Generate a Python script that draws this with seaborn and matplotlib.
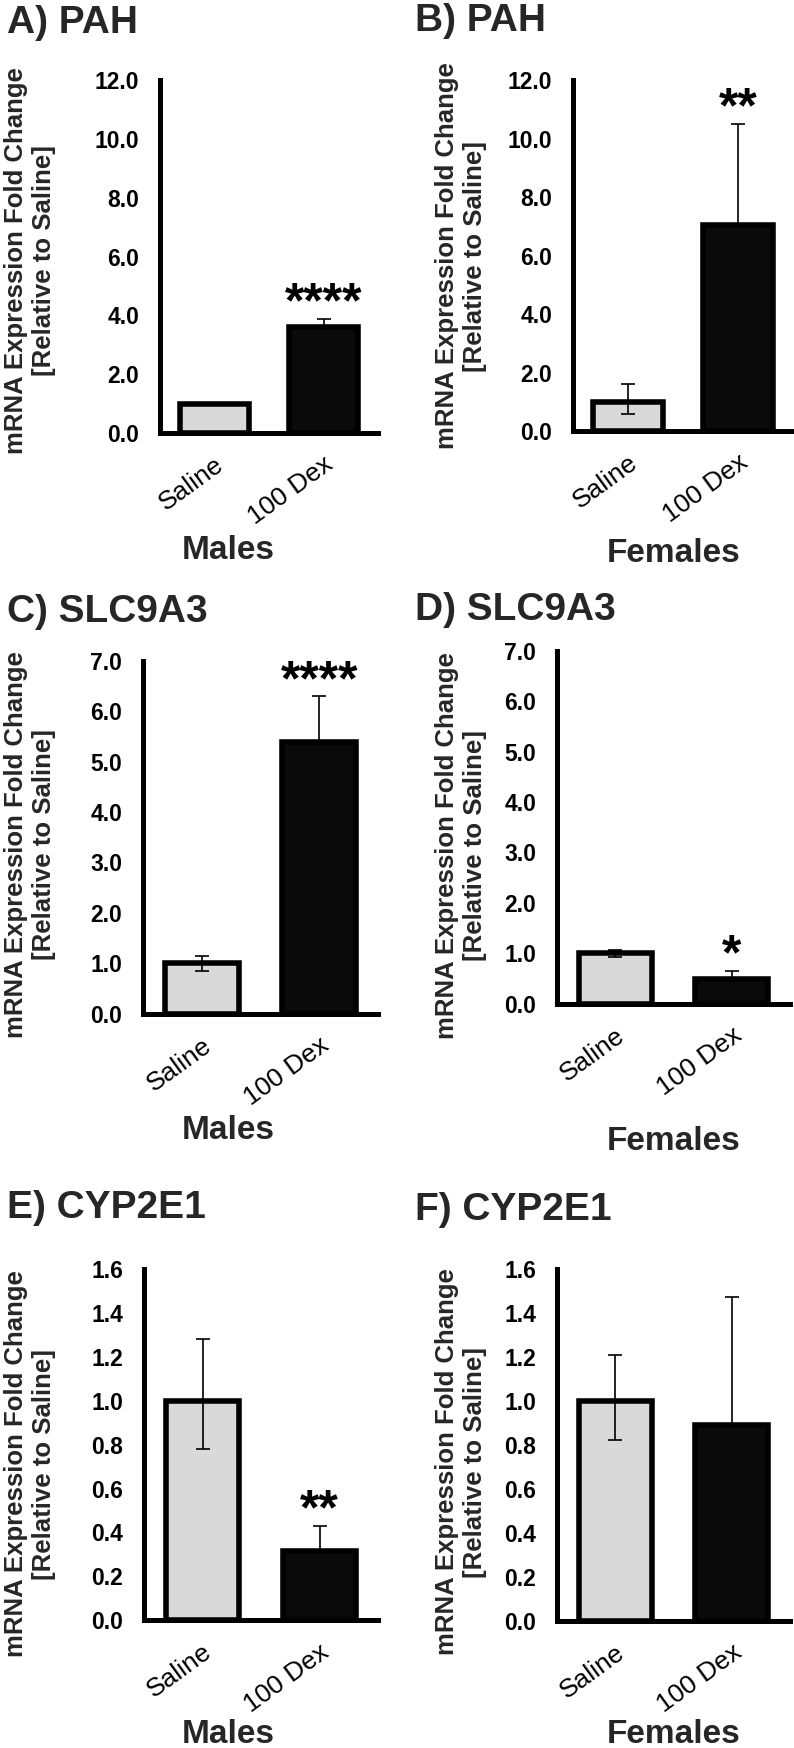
import matplotlib
matplotlib.use("Agg")
import matplotlib.pyplot as plt
import seaborn as sns
import numpy as np

# ---------------- data ----------------
groups = ["Saline", "100 Dex"]
bar_colors = ["#d9d9d9", "#0a0a0a"]

# lower whiskers of the 100 Dex bars are hidden inside the black bars (shown as 0)
pah_male = [1.00, 3.61]
pah_male_err_lo = [0.02, 0.0]
pah_male_err_hi = [0.02, 0.26]
pah_male_sig = ["", "****"]

pah_female = [1.00, 7.04]
pah_female_err_lo = [0.43, 0.0]
pah_female_err_hi = [0.60, 3.45]
pah_female_sig = ["", "**"]

slc_male = [1.00, 5.40]
slc_male_err_lo = [0.16, 0.0]
slc_male_err_hi = [0.14, 0.90]
slc_male_sig = ["", "****"]

slc_female = [1.00, 0.48]
slc_female_err_lo = [0.07, 0.0]
slc_female_err_hi = [0.07, 0.17]
slc_female_sig = ["", "*"]

cyp_male = [1.00, 0.315]
cyp_male_err_lo = [0.22, 0.0]
cyp_male_err_hi = [0.28, 0.115]
cyp_male_sig = ["", "**"]

cyp_female = [1.00, 0.89]
cyp_female_err_lo = [0.18, 0.0]
cyp_female_err_hi = [0.21, 0.58]
cyp_female_sig = ["", ""]

panel_titles = ["A) PAH", "B) PAH", "C) SLC9A3", "D) SLC9A3", "E) CYP2E1", "F) CYP2E1"]
sex_labels = ["Males", "Females", "Males", "Females", "Males", "Females"]
y_max = [12.0, 12.0, 7.0, 7.0, 1.6, 1.6]
y_step = [2.0, 2.0, 1.0, 1.0, 0.2, 0.2]
ylabel_text = "mRNA Expression Fold Change\n[Relative to Saline]"

values = [pah_male, pah_female, slc_male, slc_female, cyp_male, cyp_female]
errs_lo = [pah_male_err_lo, pah_female_err_lo, slc_male_err_lo, slc_female_err_lo,
           cyp_male_err_lo, cyp_female_err_lo]
errs_hi = [pah_male_err_hi, pah_female_err_hi, slc_male_err_hi, slc_female_err_hi,
           cyp_male_err_hi, cyp_female_err_hi]
sigs = [pah_male_sig, pah_female_sig, slc_male_sig, slc_female_sig, cyp_male_sig, cyp_female_sig]

# ---------------- layout (pixels) ----------------
W, H = 794, 1748
DPI = 100
axes_px = [  # left, right, top, bottom
    (160, 378, 80, 433),
    (573, 793, 80, 431),
    (143, 378, 661, 1013.6),
    (557, 790, 651, 1003.6),
    (144, 378, 1268.7, 1620.4),
    (557, 790, 1268.7, 1621),
]
title_pos = [(7, 33), (415, 31), (7, 622), (415, 620), (7, 1218), (415, 1220)]
xlabel_pos = [(228, 558.6), (673.5, 562), (228, 1138.6), (673.5, 1150), (228, 1743), (673.5, 1743)]
ylabel_pos = [(30, 261), (461, 256), (30, 845), (461, 846), (30, 1464), (461, 1462)]

sns.set_theme(style="white")
plt.rcParams["font.family"] = ["Liberation Sans", "DejaVu Sans"]

fig = plt.figure(figsize=(W / DPI, H / DPI), dpi=DPI)
fig.patch.set_facecolor("white")

for i in range(6):
    l, r, t, b = axes_px[i]
    ax = fig.add_axes([l / W, 1 - b / H, (r - l) / W, (b - t) / H])
    ax.set_facecolor("white")
    sns.barplot(x=groups, y=values[i], hue=groups, palette=bar_colors, order=groups,
                hue_order=groups, edgecolor="black", linewidth=4, width=0.63,
                saturation=1, errorbar=None, legend=False, ax=ax, zorder=2)
    ax.errorbar(x=[0, 1], y=values[i], yerr=[errs_lo[i], errs_hi[i]], fmt="none",
                ecolor="black", elinewidth=1.2, capsize=5, capthick=1.2, zorder=3)
    for j, s in enumerate(sigs[i]):
        if s:
            ax.annotate(s, xy=(j, values[i][j] + errs_hi[i][j]), xytext=(0, 1),
                        textcoords="offset points", ha="center", va="baseline",
                        fontsize=36, fontweight="bold", color="black")
    ax.set_xlim(-0.5, 1.5)
    ax.set_ylim(0, y_max[i])
    ticks = np.round(np.arange(0, y_max[i] + y_step[i] / 2, y_step[i]), 2)
    ax.set_yticks(ticks)
    ax.set_yticklabels([f"{v:.1f}" for v in ticks], fontsize=16.5, fontweight="bold")
    ax.set_xticks([0, 1])
    ax.set_xticklabels(groups, fontsize=19, rotation=36, ha="right", va="top",
                       rotation_mode="anchor")
    ax.tick_params(axis="y", direction="out", length=6, width=3, pad=9, colors="black")
    ax.tick_params(axis="x", length=0, pad=14, colors="black")
    for side in ["top", "right"]:
        ax.spines[side].set_visible(False)
    for side in ["left", "bottom"]:
        ax.spines[side].set_linewidth(3.6)
        ax.spines[side].set_color("black")
        ax.spines[side].set_capstyle("projecting")
    ax.set_xlabel("")
    ax.set_ylabel("")
    ax.grid(False)

    tx, ty = title_pos[i]
    fig.text(tx / W, 1 - ty / H, panel_titles[i], fontsize=28, fontweight="bold",
             ha="left", va="baseline")
    xx, xy = xlabel_pos[i]
    fig.text(xx / W, 1 - xy / H, sex_labels[i], fontsize=24, fontweight="bold",
             ha="center", va="baseline")
    yx, yy = ylabel_pos[i]
    fig.text(yx / W, 1 - yy / H, ylabel_text, fontsize=18.5, fontweight="bold",
             rotation=90, ha="center", va="center", multialignment="center",
             linespacing=1.2)

fig.savefig("out.png", dpi=DPI, facecolor="white")
